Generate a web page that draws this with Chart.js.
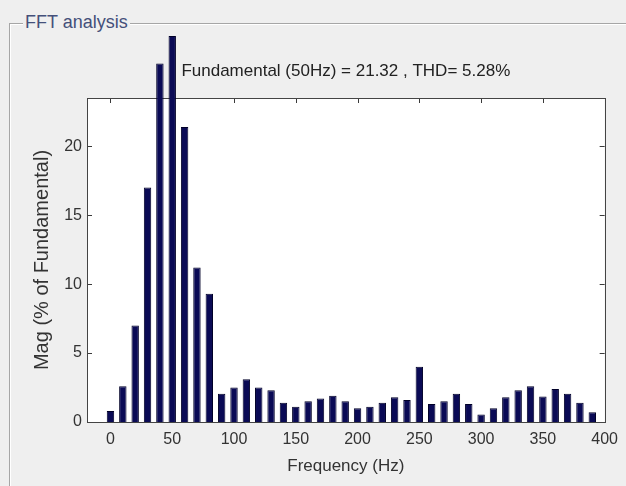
<!DOCTYPE html>
<html>
<head>
<meta charset="utf-8">
<title>FFT analysis</title>
<script src="https://cdn.jsdelivr.net/npm/chart.js@4.4.0/dist/chart.umd.min.js"></script>
<style>
  html, body { margin: 0; padding: 0; background: #efefef; }
  #wrap { position: relative; width: 626px; height: 486px; overflow: hidden; }
  #frame {
    position: absolute; left: 9px; top: 23px; right: -5px; bottom: -5px;
    border: 1px solid #a6a6a6;
    box-shadow: inset 1px 1px 0 #fff, 1px 1px 0 #fff;
  }
  #frame-label {
    position: absolute; left: 23px; top: 12px; padding: 0 2px;
    background: #efefef; color: #44507a;
    font: 18px "Liberation Sans", Arial, sans-serif; line-height: 20px;
  }
  canvas { position: absolute; left: 0; top: 0; }
</style>
</head>
<body>
<div id="wrap">
  <div id="frame"></div>
  <div id="frame-label">FFT analysis</div>
  <canvas id="fft" width="626" height="486"></canvas>
</div>
<script>
// ── Data ───────────────────────────────────────────────
const freqs = [0, 10, 20, 30, 40, 50, 60, 70, 80, 90,
               100, 110, 120, 130, 140, 150, 160, 170, 180, 190,
               200, 210, 220, 230, 240, 250, 260, 270, 280, 290,
               300, 310, 320, 330, 340, 350, 360, 370, 380, 390];
const mags  = [0.8, 2.6, 7.0, 17.0, 26.0, 28.0, 21.4, 11.2, 9.3, 2.05,
               2.5, 3.1, 2.5, 2.3, 1.4, 1.1, 1.5, 1.7, 1.9, 1.5,
               1.0, 1.1, 1.4, 1.8, 1.6, 4.0, 1.3, 1.5, 2.05, 1.3,
               0.55, 1.0, 1.8, 2.3, 2.6, 1.85, 2.4, 2.05, 1.4, 0.7];
const xTicks = [0, 50, 100, 150, 200, 250, 300, 350, 400];
const yTicks = [0, 5, 10, 15, 20];

const titleText = 'Fundamental (50Hz) = 21.32 , THD= 5.28%';
const FONT = '"Liberation Sans", Arial, sans-serif';

// ── MATLAB-style box with inward ticks ─────────────────
const boxPlugin = {
  id: 'matlabBox',
  beforeDraw(chart) {
    const { ctx, chartArea: a } = chart;
    ctx.save();
    ctx.fillStyle = '#ffffff';
    ctx.fillRect(a.left, a.top, a.right - a.left, a.bottom - a.top);
    ctx.restore();
  },
  beforeDatasetsDraw(chart) {
    const { ctx, chartArea: a, scales: { x, y } } = chart;
    const len = 5;
    ctx.save();
    ctx.strokeStyle = '#3a3a3a';
    ctx.lineWidth = 1;
    ctx.beginPath();
    x.ticks.forEach(t => {
      const px = Math.round(x.getPixelForValue(t.value)) + 0.5;
      ctx.moveTo(px, a.bottom); ctx.lineTo(px, a.bottom - len);
      ctx.moveTo(px, a.top);    ctx.lineTo(px, a.top + len);
    });
    y.ticks.forEach(t => {
      const py = Math.round(y.getPixelForValue(t.value)) + 0.5;
      ctx.moveTo(a.left, py);  ctx.lineTo(a.left + len, py);
      ctx.moveTo(a.right, py); ctx.lineTo(a.right - len, py);
    });
    ctx.stroke();
    ctx.strokeStyle = '#444444';
    ctx.strokeRect(Math.round(a.left) + 0.5, Math.round(a.top) + 0.5,
                   Math.round(a.right - a.left), Math.round(a.bottom - a.top));
    ctx.restore();
  }
};

new Chart(document.getElementById('fft'), {
  type: 'bar',
  data: {
    datasets: [{
      data: freqs.map((f, i) => ({ x: f, y: mags[i] })),
      backgroundColor: '#0a0a55',
      borderColor: '#000028',
      borderWidth: 1,
      barPercentage: 0.6,
      categoryPercentage: 1.0,
      clip: false
    }]
  },
  options: {
    responsive: false,
    animation: false,
    layout: { padding: { left: 0, right: 19, top: 0, bottom: 0 } },
    plugins: {
      legend: { display: false },
      tooltip: { enabled: false },
      title: {
        display: true,
        text: titleText,
        fullSize: false,
        color: '#222222',
        font: { family: FONT, size: 17, weight: 'normal' },
        padding: { top: 60.8, bottom: 16.8 }
      }
    },
    scales: {
      x: {
        type: 'linear',
        offset: false,
        min: -19,
        max: 400,
        afterBuildTicks: s => { s.ticks = xTicks.map(v => ({ value: v })); },
        afterFit: s => { s.height = 64; },
        grid: { display: false, drawTicks: false, offset: false },
        border: { display: false },
        ticks: { color: '#333333', padding: 8, maxRotation: 0,
                 font: { family: FONT, size: 16 } },
        title: { display: true, text: 'Frequency (Hz)', color: '#333333',
                 font: { family: FONT, size: 17 }, padding: { top: 0, bottom: 9.8 } }
      },
      y: {
        min: 0,
        max: 23.5,
        afterBuildTicks: s => { s.ticks = yTicks.map(v => ({ value: v })); },
        afterFit: s => { s.width = 87; },
        grid: { display: false, drawTicks: false },
        border: { display: false },
        ticks: { color: '#333333', padding: 5,
                 font: { family: FONT, size: 16 } },
        title: { display: true, text: 'Mag (% of Fundamental)', color: '#333333',
                 font: { family: FONT, size: 20 }, padding: { top: 30, bottom: 0 } }
      }
    }
  },
  plugins: [boxPlugin]
});
</script>
</body>
</html>
